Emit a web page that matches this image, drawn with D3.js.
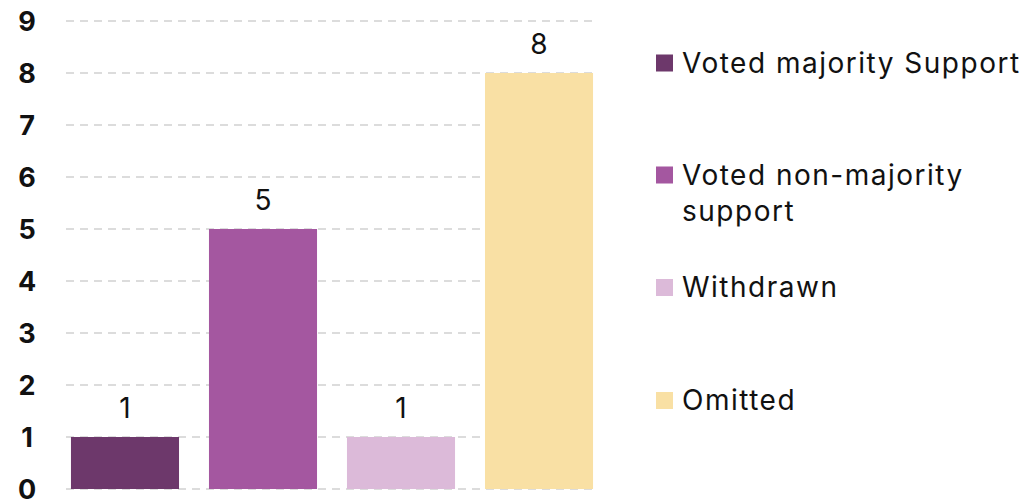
<!DOCTYPE html>
<html><head><meta charset="utf-8">
<script src="https://cdn.jsdelivr.net/npm/d3@7"></script>
<style>body{margin:0;background:#fff}svg{display:block}text{font-family:Inter,"Noto Sans",sans-serif}</style>
</head><body>
<script>
const categories = ["Voted majority Support","Voted non-majority support","Withdrawn","Omitted"];
const values = [1,5,1,8];
const colors = ["#6d386b","#a457a0","#dcbad9","#f9e0a4"];
const yTicks = [0,1,2,3,4,5,6,7,8,9];
const legendLines = [["Voted majority Support"],["Voted non-majority","support"],["Withdrawn"],["Omitted"]];

const W=1028,H=501;
const svg=d3.select("body").append("svg").attr("width",W).attr("height",H);
const x=d3.scaleBand().domain(categories).range([66,598]).paddingInner(0.217).paddingOuter(0.036);
const y=d3.scaleLinear().domain([0,9]).range([489,21]);

const grid=svg.append("g");
grid.selectAll("line").data(yTicks).join("line")
 .attr("x1",66).attr("x2",598).attr("y1",d=>y(d)).attr("y2",d=>y(d))
 .attr("stroke","#dcdcdc").attr("stroke-width",2).attr("stroke-dasharray","8,6");

const yAxis=d3.axisLeft(y).tickValues(yTicks).tickSize(0).tickPadding(0);
const ga=svg.append("g").attr("transform","translate(27,0)").call(yAxis);
ga.select(".domain").remove();
ga.selectAll("text").attr("text-anchor","middle").attr("x",0).attr("dy","0.35em")
 .attr("font-size",27).attr("font-weight",700).attr("fill","#111").style("font-family","Inter,sans-serif");

svg.append("g").selectAll("rect").data(values).join("rect")
 .attr("x",(d,i)=>x(categories[i])).attr("width",x.bandwidth())
 .attr("y",d=>y(d)).attr("height",d=>y(0)-y(d)).attr("fill",(d,i)=>colors[i]);

svg.append("g").selectAll("text").data(values).join("text")
 .attr("x",(d,i)=>x(categories[i])+x.bandwidth()/2).attr("y",d=>y(d)-19)
 .attr("text-anchor","middle").attr("font-size",28).attr("fill","#111").text(d=>d);

const legY=[63,175,287.5,400.5];
const lg=svg.append("g");
legendLines.forEach((lines,i)=>{
  lg.append("rect").attr("x",656).attr("y",legY[i]-8.5).attr("width",17).attr("height",17).attr("fill",colors[i]);
  const t=lg.append("text").attr("x",682).attr("y",legY[i]).attr("dy","0.35em").attr("font-size",28).attr("letter-spacing",1.5).attr("fill","#111");
  lines.forEach((l,j)=>t.append("tspan").attr("x",682).attr("dy",j===0?"0.35em":"1.3em").text(l));
});
</script>
</body></html>
